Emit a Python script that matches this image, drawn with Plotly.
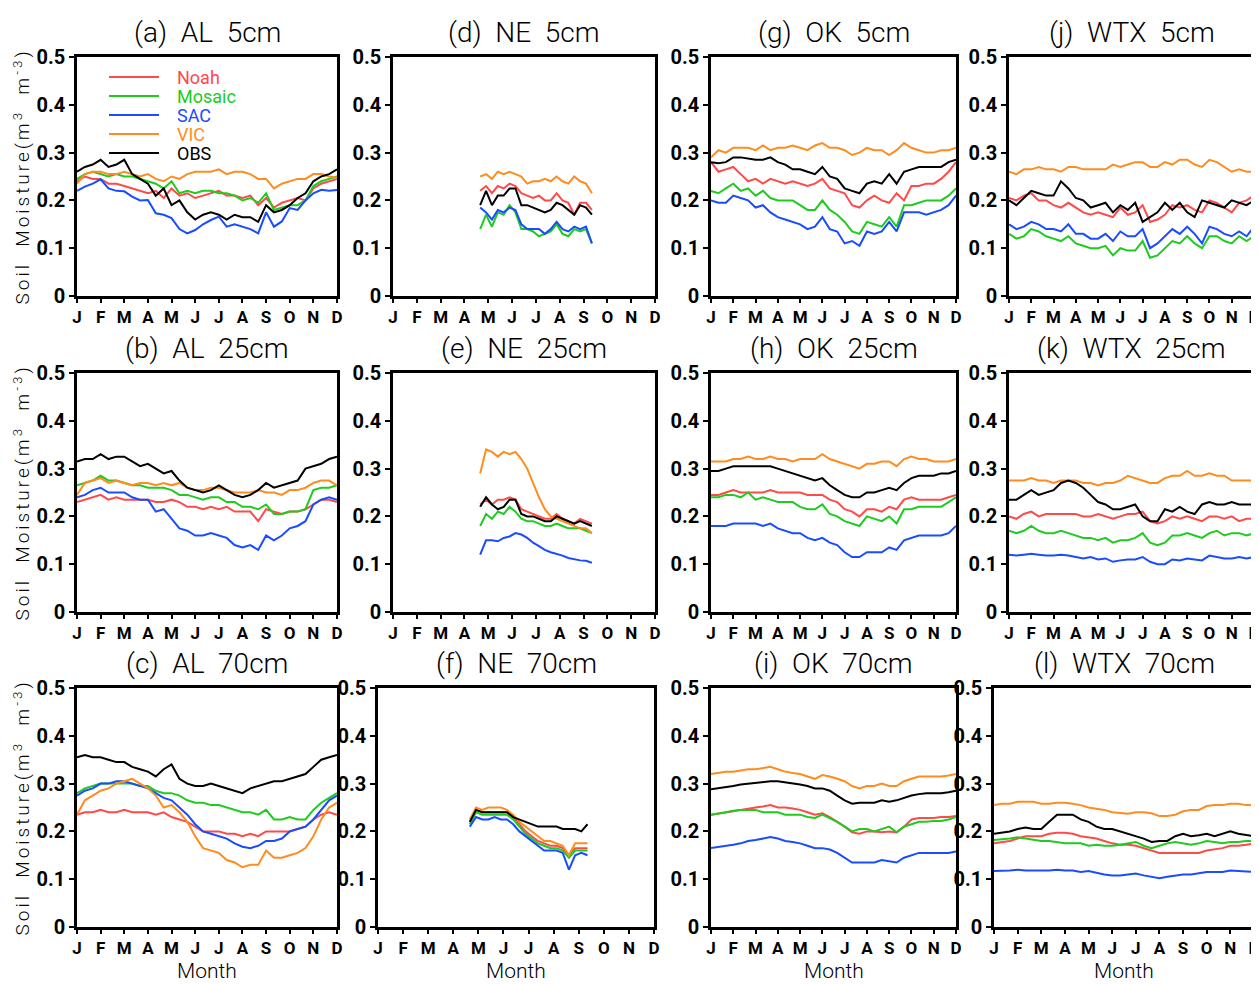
import numpy as np
import plotly.graph_objects as go

MONTHS = ["J", "F", "M", "A", "M", "J", "J", "A", "S", "O", "N", "D"]
SERIES = ["Noah", "Mosaic", "SAC", "VIC", "OBS"]
COLORS = {"Noah": "#ff4a4a", "Mosaic": "#1ecb1e", "SAC": "#1a4cff", "VIC": "#ff8c1f", "OBS": "#000000"}

# x positions (month index, J=0 ... D=11)
X_FULL = [k / 3 for k in range(34)]
X_NE = list(np.linspace(3.66, 8.35, 20))

# ---------------- (a) AL 5cm ----------------
AL5_NOAH = [.24,.25,.245,.245,.235,.235,.23,.225,.22,.215,.22,.205,.225,.21,.215,.205,.21,.215,.22,.21,.21,.205,.21,.19,.205,.185,.195,.2,.205,.2,.225,.235,.24,.245]
AL5_MOSAIC = [.245,.255,.26,.255,.25,.255,.25,.25,.245,.24,.235,.225,.24,.215,.22,.215,.22,.22,.215,.215,.21,.2,.205,.195,.215,.18,.185,.19,.19,.2,.23,.24,.245,.25]
AL5_SAC = [.22,.229,.235,.244,.225,.22,.219,.208,.2,.201,.173,.17,.163,.14,.131,.138,.15,.159,.166,.145,.15,.145,.14,.131,.175,.145,.156,.184,.18,.2,.215,.222,.22,.222]
AL5_VIC = [.235,.255,.26,.26,.255,.255,.26,.255,.25,.255,.245,.24,.25,.245,.255,.26,.26,.26,.265,.255,.26,.26,.255,.245,.245,.225,.235,.24,.245,.245,.255,.255,.25,.248]
AL5_OBS = [.26,.27,.275,.285,.27,.275,.285,.255,.245,.235,.21,.225,.19,.2,.175,.16,.17,.175,.17,.16,.17,.165,.165,.155,.19,.175,.18,.19,.205,.215,.24,.25,.255,.265]

# ---------------- (b) AL 25cm ----------------
AL25_NOAH = [.23,.235,.24,.245,.235,.24,.235,.235,.235,.235,.23,.23,.235,.23,.22,.22,.215,.22,.215,.22,.21,.21,.21,.19,.215,.21,.205,.21,.21,.215,.225,.235,.235,.23]
AL25_MOSAIC = [.265,.27,.275,.285,.275,.275,.27,.265,.265,.26,.26,.26,.255,.245,.245,.24,.235,.24,.24,.23,.23,.22,.22,.215,.225,.205,.205,.21,.21,.215,.255,.26,.26,.265]
AL25_SAC = [.24,.245,.255,.26,.25,.25,.25,.24,.235,.235,.21,.215,.195,.175,.17,.16,.16,.165,.16,.155,.14,.135,.14,.13,.16,.15,.16,.175,.18,.19,.225,.235,.24,.235]
AL25_VIC = [.245,.27,.275,.28,.27,.275,.27,.265,.27,.27,.265,.27,.265,.27,.26,.255,.255,.26,.26,.255,.25,.25,.25,.255,.25,.25,.245,.255,.255,.26,.27,.275,.275,.265]
AL25_OBS = [.315,.32,.32,.33,.32,.325,.325,.315,.305,.31,.3,.29,.295,.275,.26,.255,.25,.255,.265,.255,.245,.24,.245,.255,.27,.26,.265,.27,.275,.3,.305,.31,.32,.325]

# ---------------- (c) AL 70cm ----------------
AL70_NOAH = [.235,.24,.24,.245,.24,.24,.245,.24,.24,.24,.235,.24,.23,.225,.22,.21,.2,.2,.2,.195,.195,.19,.195,.19,.2,.2,.2,.2,.205,.21,.225,.235,.24,.235]
AL70_MOSAIC = [.28,.29,.295,.3,.3,.3,.3,.3,.295,.295,.285,.28,.28,.275,.265,.26,.26,.255,.255,.25,.245,.24,.24,.235,.245,.225,.225,.23,.225,.225,.245,.26,.27,.28]
AL70_SAC = [.275,.285,.29,.3,.3,.305,.305,.3,.295,.29,.28,.27,.265,.25,.235,.215,.2,.195,.19,.185,.175,.168,.165,.17,.18,.18,.185,.2,.205,.21,.225,.245,.265,.275]
AL70_VIC = [.235,.265,.275,.285,.29,.3,.305,.31,.3,.29,.275,.25,.255,.24,.22,.19,.165,.16,.155,.14,.135,.125,.13,.13,.16,.145,.145,.15,.155,.165,.19,.225,.25,.26]
AL70_OBS = [.355,.36,.355,.355,.35,.345,.345,.335,.33,.325,.315,.33,.34,.31,.3,.295,.295,.3,.295,.29,.285,.28,.29,.295,.3,.305,.305,.31,.315,.32,.335,.35,.355,.36]

# ---------------- (d) NE 5cm ----------------
NE5_NOAH = [.22,.23,.215,.23,.225,.235,.23,.215,.21,.205,.21,.2,.2,.215,.2,.195,.17,.195,.195,.18]
NE5_MOSAIC = [.14,.17,.145,.175,.17,.19,.175,.14,.14,.135,.125,.13,.135,.15,.13,.125,.14,.135,.14,.11]
NE5_SAC = [.185,.175,.16,.18,.175,.185,.18,.15,.14,.14,.14,.13,.14,.155,.14,.135,.145,.14,.145,.11]
NE5_VIC = [.25,.255,.245,.26,.255,.26,.255,.25,.235,.24,.24,.245,.24,.25,.24,.235,.25,.24,.235,.215]
NE5_OBS = [.19,.22,.19,.21,.21,.225,.225,.19,.19,.185,.18,.175,.18,.195,.19,.18,.17,.19,.185,.17]

# ---------------- (e) NE 25cm ----------------
NE25_NOAH = [.225,.235,.225,.235,.235,.24,.235,.215,.21,.205,.2,.195,.195,.205,.195,.19,.185,.195,.19,.185]
NE25_MOSAIC = [.18,.205,.195,.21,.205,.22,.21,.195,.19,.19,.185,.18,.18,.185,.18,.175,.175,.175,.17,.165]
NE25_SAC = [.12,.15,.15,.148,.155,.158,.165,.162,.155,.145,.138,.13,.125,.122,.118,.113,.11,.108,.107,.103]
NE25_VIC = [.29,.34,.335,.325,.335,.33,.335,.32,.3,.27,.24,.215,.2,.195,.19,.185,.18,.175,.175,.165]
NE25_OBS = [.22,.24,.225,.215,.22,.235,.235,.205,.2,.2,.195,.19,.19,.2,.195,.19,.185,.19,.185,.18]

# ---------------- (f) NE 70cm ----------------
NE70_NOAH = [.22,.245,.24,.24,.24,.24,.24,.23,.215,.2,.19,.18,.175,.17,.17,.165,.15,.165,.165,.165]
NE70_MOSAIC = [.215,.24,.235,.235,.235,.235,.235,.225,.21,.195,.185,.175,.17,.165,.165,.16,.145,.16,.16,.16]
NE70_SAC = [.21,.23,.225,.225,.23,.225,.225,.215,.2,.19,.18,.17,.16,.16,.16,.155,.12,.15,.155,.15]
NE70_VIC = [.225,.25,.245,.25,.25,.25,.245,.235,.22,.21,.2,.19,.18,.18,.175,.17,.15,.175,.175,.175]
NE70_OBS = [.22,.245,.24,.24,.24,.24,.24,.23,.225,.22,.215,.21,.21,.21,.21,.205,.205,.205,.2,.215]

# ---------------- (g) OK 5cm ----------------
OK5_NOAH = [.28,.26,.265,.27,.255,.24,.245,.235,.245,.24,.235,.24,.235,.23,.235,.245,.225,.22,.215,.19,.185,.2,.21,.2,.195,.215,.2,.23,.23,.235,.235,.245,.26,.28]
OK5_MOSAIC = [.22,.215,.225,.235,.22,.225,.21,.22,.205,.2,.2,.2,.19,.18,.18,.2,.18,.17,.155,.135,.13,.155,.15,.145,.165,.145,.19,.19,.195,.2,.2,.2,.21,.225]
OK5_SAC = [.2,.195,.195,.21,.205,.2,.185,.19,.175,.165,.16,.155,.15,.14,.145,.165,.14,.135,.11,.115,.105,.135,.13,.135,.155,.135,.175,.175,.175,.17,.175,.18,.19,.21]
OK5_VIC = [.29,.305,.3,.31,.31,.31,.305,.315,.305,.31,.31,.315,.31,.305,.315,.32,.31,.31,.305,.295,.3,.31,.305,.305,.295,.305,.32,.31,.305,.3,.3,.305,.305,.31]
OK5_OBS = [.28,.278,.28,.29,.29,.288,.285,.285,.29,.28,.275,.265,.265,.26,.255,.27,.25,.245,.225,.22,.215,.235,.24,.235,.255,.235,.26,.265,.27,.27,.27,.27,.28,.285]

# ---------------- (h) OK 25cm ----------------
OK25_NOAH = [.245,.245,.25,.255,.25,.25,.25,.25,.255,.25,.25,.25,.25,.245,.245,.245,.235,.23,.215,.21,.2,.215,.215,.21,.22,.215,.235,.24,.235,.235,.235,.235,.24,.245]
OK25_MOSAIC = [.24,.24,.245,.245,.24,.25,.235,.24,.235,.23,.23,.23,.22,.215,.215,.225,.205,.2,.19,.185,.18,.2,.195,.19,.2,.185,.215,.215,.22,.22,.22,.22,.23,.24]
OK25_SAC = [.18,.18,.18,.185,.185,.185,.185,.18,.185,.175,.17,.165,.165,.155,.15,.155,.145,.14,.125,.115,.115,.125,.125,.125,.135,.13,.15,.155,.16,.16,.16,.16,.165,.18]
OK25_VIC = [.315,.315,.315,.32,.32,.325,.32,.32,.325,.32,.32,.315,.32,.32,.32,.33,.32,.315,.31,.305,.3,.31,.31,.315,.315,.305,.32,.325,.32,.32,.315,.315,.315,.32]
OK25_OBS = [.295,.295,.3,.305,.305,.305,.305,.305,.305,.3,.295,.29,.285,.28,.275,.28,.265,.255,.245,.24,.24,.25,.25,.255,.26,.255,.27,.28,.285,.285,.285,.29,.29,.295]

# ---------------- (i) OK 70cm ----------------
OK70_NOAH = [.235,.237,.24,.242,.245,.248,.25,.252,.255,.25,.25,.248,.245,.24,.235,.238,.23,.22,.21,.198,.195,.2,.2,.198,.2,.198,.21,.225,.228,.228,.228,.23,.23,.232]
OK70_MOSAIC = [.235,.237,.24,.243,.245,.245,.245,.24,.24,.24,.235,.235,.235,.23,.228,.235,.228,.22,.21,.2,.205,.205,.2,.205,.21,.198,.21,.215,.22,.22,.222,.222,.225,.23]
OK70_SAC = [.165,.167,.17,.172,.175,.18,.182,.185,.188,.185,.18,.178,.175,.17,.165,.165,.162,.155,.145,.135,.135,.135,.135,.14,.138,.135,.145,.15,.155,.155,.155,.155,.155,.158]
OK70_VIC = [.32,.322,.325,.325,.328,.33,.33,.332,.335,.33,.325,.322,.32,.315,.31,.318,.315,.31,.305,.295,.29,.295,.295,.3,.295,.295,.305,.31,.315,.315,.315,.315,.317,.32]
OK70_OBS = [.288,.29,.292,.295,.298,.3,.302,.303,.305,.305,.303,.3,.298,.295,.29,.29,.285,.275,.265,.258,.26,.26,.26,.265,.262,.265,.27,.275,.278,.28,.28,.28,.282,.285]

# ---------------- (j) WTX 5cm ----------------
WTX5_NOAH = [.205,.2,.21,.215,.2,.2,.19,.185,.195,.185,.175,.17,.175,.17,.165,.185,.17,.175,.19,.155,.16,.17,.19,.185,.19,.18,.175,.2,.195,.185,.175,.195,.2,.21]
WTX5_MOSAIC = [.13,.12,.125,.14,.135,.125,.12,.115,.125,.11,.105,.1,.1,.105,.085,.1,.095,.095,.115,.08,.085,.1,.115,.11,.125,.11,.1,.125,.125,.115,.11,.125,.115,.125]
WTX5_SAC = [.15,.14,.145,.155,.15,.14,.14,.135,.15,.13,.13,.12,.12,.13,.115,.135,.125,.125,.14,.1,.11,.125,.14,.13,.145,.13,.11,.145,.14,.13,.125,.135,.125,.145]
WTX5_VIC = [.26,.255,.265,.265,.27,.265,.265,.26,.27,.27,.265,.265,.265,.265,.275,.27,.275,.28,.28,.27,.27,.28,.275,.285,.285,.275,.27,.285,.28,.27,.26,.265,.26,.26]
WTX5_OBS = [.2,.19,.205,.22,.215,.21,.21,.24,.225,.205,.2,.185,.19,.195,.175,.19,.18,.195,.155,.165,.175,.195,.18,.195,.175,.165,.2,.195,.19,.185,.2,.195,.19,.2]

# ---------------- (k) WTX 25cm ----------------
WTX25_NOAH = [.2,.195,.205,.21,.2,.205,.205,.205,.205,.205,.2,.2,.205,.2,.195,.2,.205,.205,.21,.19,.185,.19,.2,.195,.2,.195,.19,.2,.2,.195,.2,.19,.195,.195]
WTX25_MOSAIC = [.17,.165,.17,.18,.17,.165,.165,.17,.165,.16,.155,.155,.15,.155,.145,.15,.15,.155,.165,.145,.14,.145,.16,.16,.165,.16,.155,.165,.17,.16,.165,.165,.16,.165]
WTX25_SAC = [.12,.118,.12,.122,.12,.118,.118,.12,.118,.115,.112,.115,.11,.112,.105,.108,.11,.11,.115,.105,.1,.1,.11,.108,.112,.11,.108,.118,.115,.112,.112,.115,.112,.115]
WTX25_VIC = [.275,.275,.275,.28,.275,.275,.27,.275,.275,.275,.27,.27,.265,.27,.27,.275,.285,.28,.275,.27,.27,.28,.285,.285,.295,.285,.285,.29,.285,.285,.275,.275,.275,.275]
WTX25_OBS = [.235,.235,.245,.255,.245,.25,.255,.27,.275,.27,.26,.245,.23,.225,.215,.215,.22,.225,.2,.19,.19,.215,.21,.22,.21,.205,.225,.23,.225,.225,.23,.225,.225,.225]

# ---------------- (l) WTX 70cm ----------------
WTX70_NOAH = [.175,.178,.18,.185,.19,.19,.19,.195,.197,.197,.195,.19,.188,.185,.18,.175,.172,.172,.17,.165,.16,.155,.155,.155,.155,.155,.155,.16,.162,.165,.17,.17,.172,.175]
WTX70_MOSAIC = [.182,.183,.185,.188,.185,.182,.18,.18,.178,.175,.175,.175,.17,.172,.17,.17,.172,.175,.178,.17,.165,.17,.175,.178,.175,.172,.175,.18,.178,.175,.178,.178,.18,.18]
WTX70_SAC = [.117,.117,.118,.12,.118,.118,.118,.118,.12,.118,.118,.115,.117,.113,.11,.108,.108,.11,.112,.108,.105,.102,.105,.108,.11,.11,.112,.115,.115,.115,.118,.117,.117,.115]
WTX70_VIC = [.255,.258,.258,.262,.262,.262,.258,.258,.26,.26,.258,.255,.25,.248,.245,.24,.238,.237,.24,.24,.238,.232,.232,.235,.242,.245,.245,.253,.255,.255,.258,.258,.255,.255]
WTX70_OBS = [.195,.197,.2,.205,.208,.205,.205,.22,.235,.235,.235,.225,.22,.21,.205,.205,.2,.195,.19,.185,.178,.18,.18,.19,.195,.19,.192,.195,.19,.195,.2,.195,.193,.19]

Y_TICKS = [0, 0.1, 0.2, 0.3, 0.4, 0.5]
Y_TICKTEXT = ["0", "0.1", "0.2", "0.3", "0.4", "0.5"]

# panel: (title, x-grid, data lists, screen pixel box (left, top, right, bottom), column, row)
PANELS = [
    ("(a)  AL  5cm", X_FULL, [AL5_NOAH, AL5_MOSAIC, AL5_SAC, AL5_VIC, AL5_OBS], (77, 57, 337, 296), 0, 0),
    ("(b)  AL  25cm", X_FULL, [AL25_NOAH, AL25_MOSAIC, AL25_SAC, AL25_VIC, AL25_OBS], (77, 373, 337, 612), 0, 1),
    ("(c)  AL  70cm", X_FULL, [AL70_NOAH, AL70_MOSAIC, AL70_SAC, AL70_VIC, AL70_OBS], (77, 688, 337, 927), 0, 2),
    ("(d)  NE  5cm", X_NE, [NE5_NOAH, NE5_MOSAIC, NE5_SAC, NE5_VIC, NE5_OBS], (393, 57, 655, 296), 1, 0),
    ("(e)  NE  25cm", X_NE, [NE25_NOAH, NE25_MOSAIC, NE25_SAC, NE25_VIC, NE25_OBS], (393, 373, 655, 612), 1, 1),
    ("(f)  NE  70cm", X_NE, [NE70_NOAH, NE70_MOSAIC, NE70_SAC, NE70_VIC, NE70_OBS], (378, 688, 654, 927), 1, 2),
    ("(g)  OK  5cm", X_FULL, [OK5_NOAH, OK5_MOSAIC, OK5_SAC, OK5_VIC, OK5_OBS], (711, 57, 956, 296), 2, 0),
    ("(h)  OK  25cm", X_FULL, [OK25_NOAH, OK25_MOSAIC, OK25_SAC, OK25_VIC, OK25_OBS], (711, 373, 956, 612), 2, 1),
    ("(i)  OK  70cm", X_FULL, [OK70_NOAH, OK70_MOSAIC, OK70_SAC, OK70_VIC, OK70_OBS], (711, 688, 956, 927), 2, 2),
    ("(j)  WTX  5cm", X_FULL, [WTX5_NOAH, WTX5_MOSAIC, WTX5_SAC, WTX5_VIC, WTX5_OBS], (1009, 57, 1254, 296), 3, 0),
    ("(k)  WTX  25cm", X_FULL, [WTX25_NOAH, WTX25_MOSAIC, WTX25_SAC, WTX25_VIC, WTX25_OBS], (1009, 373, 1254, 612), 3, 1),
    ("(l)  WTX  70cm", X_FULL, [WTX70_NOAH, WTX70_MOSAIC, WTX70_SAC, WTX70_VIC, WTX70_OBS], (994, 688, 1254, 927), 3, 2),
]

# the page body has an 8px margin: the figure is drawn 8px right/down of the window corner
OFF = 8
W, H = 1259 - OFF, 984 - OFF


def px(x):
    return (x - OFF) / W


def py(y):
    return 1 - (y - OFF) / H


TICK_FONT = "Roboto, Liberation Sans, DejaVu Sans, sans-serif"
TEXT_FONT = "Roboto, Liberation Sans, DejaVu Sans, sans-serif"

fig = go.Figure()
layout = dict(
    template="none",
    width=W, height=H,
    margin=dict(l=0, r=0, t=0, b=0, pad=0, autoexpand=False),
    paper_bgcolor="white", plot_bgcolor="white",
    showlegend=True,
    legend=dict(
        x=px(104), y=py(62.5), xanchor="left", yanchor="top",
        bgcolor="rgba(0,0,0,0)", borderwidth=0,
        font=dict(family=TEXT_FONT, size=12.3),
        itemwidth=50, tracegroupgap=0,
    ),
)
annotations = []

for i, (title, xs, data, box, col, row) in enumerate(PANELS):
    n = i + 1
    xa = "xaxis" if n == 1 else f"xaxis{n}"
    ya = "yaxis" if n == 1 else f"yaxis{n}"
    xr = "x" if n == 1 else f"x{n}"
    yr = "y" if n == 1 else f"y{n}"
    left, top, right, bottom = box
    for name, vals in zip(SERIES, data):
        assert len(vals) == len(xs), (title, name, len(vals), len(xs))
        fig.add_trace(go.Scatter(
            x=xs, y=vals, mode="lines", xaxis=xr, yaxis=yr,
            line=dict(color=COLORS[name], width=2),
            name=" ",
            legendgroup=name,
            showlegend=(n == 1),
            hoverinfo="skip",
        ))
    layout[xa] = dict(
        domain=[px(left), px(right)], anchor=yr, range=[0, 11],
        automargin=False, ticklabeloverflow="allow",
        tickmode="array", tickvals=list(range(12)), ticktext=MONTHS,
        showline=True, mirror=True, linecolor="black", linewidth=2.5,
        ticks="outside", ticklen=4, tickwidth=1.5, tickcolor="black",
        showgrid=False, zeroline=False,
        tickfont=dict(family=TICK_FONT, size=17, color="black", weight="bold"),
    )
    layout[ya] = dict(
        domain=[py(bottom), py(top)], anchor=xr, range=[0, 0.5],
        automargin=False, ticklabeloverflow="allow",
        tickmode="array", tickvals=Y_TICKS, ticktext=Y_TICKTEXT,
        showline=True, mirror=True, linecolor="black", linewidth=2.5,
        ticks="outside", ticklen=5, tickwidth=2, tickcolor="black",
        showgrid=False, zeroline=False,
        tickfont=dict(family=TICK_FONT, size=20, color="black", weight="bold"),
    )
    cx = px((left + right) / 2)
    annotations.append(dict(
        text=title.replace("  ", "\u00a0\u00a0"), x=cx, y=py(top - 25), xref="paper", yref="paper",
        xanchor="center", yanchor="middle", showarrow=False,
        font=dict(family=TEXT_FONT, size=28, color="black", weight=300),
    ))
    if col == 0:
        annotations.append(dict(
            text="<span style='letter-spacing:3px'>Soil\u00a0\u00a0Moisture(m<sup>3</sup>\u00a0\u00a0m<sup>-3</sup>)</span>",
            x=px(22), y=py((top + bottom) / 2), xref="paper", yref="paper",
            xanchor="center", yanchor="middle", textangle=-90, showarrow=False,
            font=dict(family=TEXT_FONT, size=19, color="black", weight=300),
        ))
    if row == 2:
        annotations.append(dict(
            text="Month", x=cx, y=py(971), xref="paper", yref="paper",
            xanchor="center", yanchor="middle", showarrow=False,
            font=dict(family=TEXT_FONT, size=21, color="black", weight=300),
        ))

# legend labels, coloured like their series
for j, s in enumerate(SERIES):
    annotations.append(dict(
        text=s, x=px(175), y=py(77 + 19.15 * j), xref="paper", yref="paper",
        xanchor="left", yanchor="middle", align="left", showarrow=False,
        font=dict(family=TEXT_FONT, size=18, color=COLORS[s]),
    ))

layout["annotations"] = annotations
fig.update_layout(**layout)
fig.write_html("out.html")
